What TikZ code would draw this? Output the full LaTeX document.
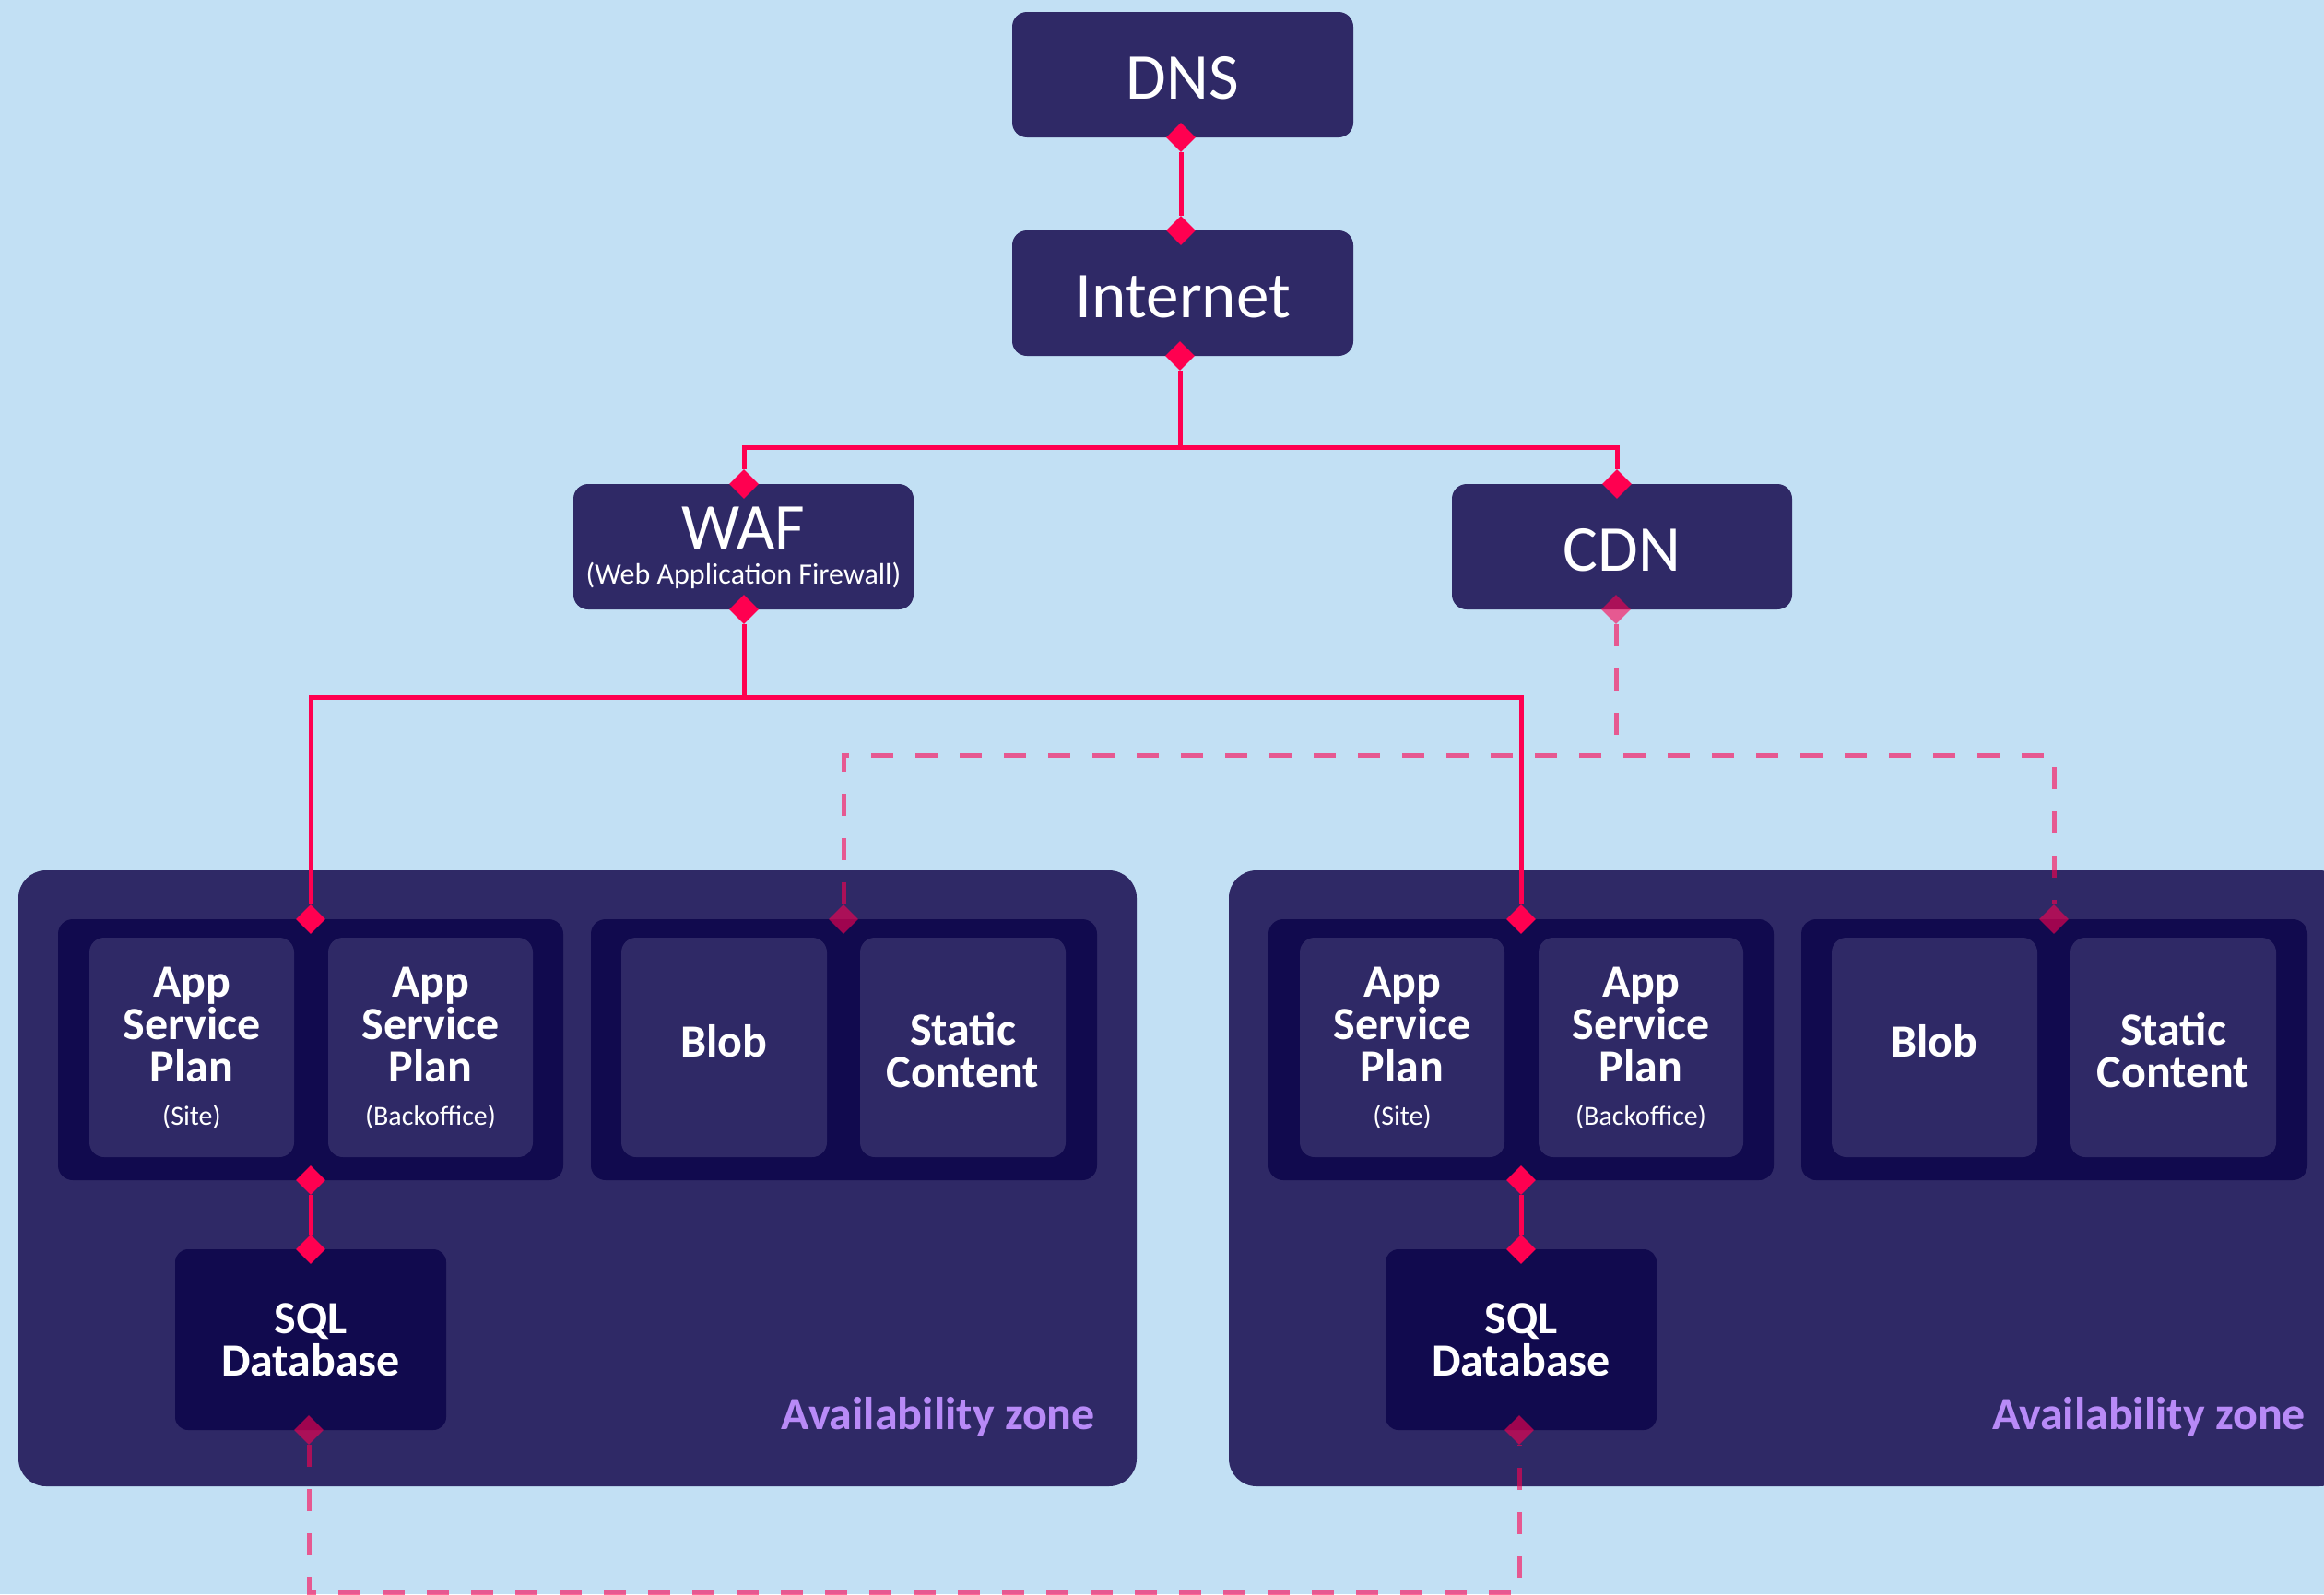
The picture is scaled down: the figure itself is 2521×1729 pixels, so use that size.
\documentclass[tikz,border=0pt]{standalone}
\usepackage{fontspec}
\setmainfont{Carlito}
\usetikzlibrary{shapes.geometric}

\definecolor{sky}{HTML}{C2E0F4}
\definecolor{navy}{HTML}{2F2966}
\definecolor{ink}{HTML}{110A4E}
\definecolor{hot}{HTML}{FF0050}
\definecolor{lilac}{HTML}{B88AF7}

\tikzset{
  box/.style={fill=navy, rounded corners=16pt, inner sep=0pt, text=white,
    text height=53pt, text depth=0pt, font=\fontsize{71}{74}\selectfont},
  group/.style={fill=ink, rounded corners=16pt, inner sep=0pt},
  card/.style={fill=navy, rounded corners=16pt, inner sep=0pt},
  dbbox/.style={fill=ink, rounded corners=14pt, inner sep=0pt},
  zonebox/.style={fill=navy, rounded corners=30pt, inner sep=0pt},
  cardtext/.style={text=white, align=center, inner sep=0pt, anchor=north,
    font=\fontsize{50}{46}\selectfont\bfseries},
  subtext/.style={text=white, inner sep=0pt, anchor=base,
    font=\fontsize{30}{34}\selectfont},
  zonetext/.style={text=lilac, inner sep=0pt, anchor=base east,
    font=\fontsize{50}{56}\selectfont\bfseries},
  knot/.style={diamond, fill=hot, inner sep=0pt, minimum width=32pt, minimum height=32pt},
  faint knot/.style={knot, fill opacity=0.6},
  link/.style={draw=hot, line width=5pt},
  dlink/.style={draw=hot, draw opacity=0.6, line width=5pt, dash pattern=on 24pt off 24pt},
}

% One availability zone: #1 = horizontal offset, #2 = name suffix
\newcommand{\azone}[2]{%
  \begin{scope}[shift={(#1,0)}]
    \node[zonebox, minimum width=1213pt, minimum height=668pt] (zone#2) at (626.5,1278) {};
    % app service plans
    \node[group, minimum width=548pt, minimum height=283pt] (apps#2) at (337,1138.5) {};
    \node[card, minimum width=222pt, minimum height=238pt] (site#2) at (208,1136) {};
    \node[card, minimum width=222pt, minimum height=238pt] (back#2) at (467,1136) {};
    \node[cardtext] (sitet#2) at (208,1048.4) {App\\Service\\Plan};
    \node[subtext] (sites#2) at (208,1220) {(Site)};
    \node[cardtext] (backt#2) at (467,1048.4) {App\\Service\\Plan};
    \node[subtext] (backs#2) at (467,1220) {(Backoffice)};
    % storage
    \node[group, minimum width=549pt, minimum height=283pt] (store#2) at (915.5,1138.5) {};
    \node[card, minimum width=223pt, minimum height=238pt] (blob#2) at (785.5,1136) {};
    \node[card, minimum width=223pt, minimum height=238pt] (stat#2) at (1044.5,1136) {};
    \node[cardtext, anchor=base] (blobt#2) at (785.5,1146) {Blob};
    \node[cardtext] (statt#2) at (1044.5,1098) {Static\\Content};
    % database
    \node[dbbox, minimum width=294pt, minimum height=196pt] (sql#2) at (337,1453) {};
    \node[cardtext] (sqlt#2) at (337,1413) {SQL\\Database};
    \node[zonetext] (zonet#2) at (1188,1550) {Availability zone};
    % connection points
    \node[knot] (appT#2) at (337,997) {};
    \node[knot] (appB#2) at (337,1280) {};
    \node[knot] (sqlT#2) at (337,1355) {};
    \node[faint knot] (sqlB#2) at (335,1551) {};
    \node[faint knot] (blobT#2) at (915,997) {};
    \draw[link] (appB#2) -- (sqlT#2);
  \end{scope}}

\begin{document}
\begin{tikzpicture}[x=1pt, y=-1pt]
  \clip (0,0) rectangle (2521,1729);
  \fill[sky] (0,0) rectangle (2521,1729);

  % front-end chain
  \node[box, minimum width=370pt, minimum height=136pt] (dns) at (1283,81) {DNS};
  \node[box, minimum width=370pt, minimum height=136pt] (inet) at (1283,318) {Internet};
  \node[box, minimum width=369pt, minimum height=136pt] (waf) at (806.5,593) {};
  \node[text=white, inner sep=0pt, anchor=base, font=\fontsize{71}{74}\selectfont] (waft) at (806.5,595) {WAF};
  \node[text=white, inner sep=0pt, anchor=base, font=\fontsize{32}{36}\selectfont] (wafs) at (806.5,633) {(Web Application Firewall)};
  \node[box, minimum width=369pt, minimum height=136pt] (cdn) at (1759.5,593) {CDN};

  \node[knot] (dnsS) at (1281,149) {};
  \node[knot] (inetN) at (1281,250) {};
  \node[knot] (inetS) at (1280,386) {};
  \node[knot] (wafN) at (807,525) {};
  \node[knot] (cdnN) at (1754,525) {};
  \node[knot] (wafS) at (807,661) {};
  \node[faint knot] (cdnS) at (1753,661) {};

  % availability zones
  \azone{0}{L}
  \azone{1313}{R}

  % replication links (dashed)
  \coordinate (fork3) at (1753,819);
  \draw[dlink] (cdnS) -- (fork3);
  \draw[dlink] (blobTL) |- (fork3) -| (blobTR);
  \coordinate (floor) at (335,1727);
  \draw[dlink] (sqlBL) -- (floor) -| (sqlBR);

  % traffic links (solid)
  \draw[link] (dnsS) -- (inetN);
  \coordinate (fork1) at (1280,485);
  \draw[link] (inetS) -- (fork1);
  \draw[link] (wafN) |- (fork1) -| (cdnN);
  \coordinate (fork2) at (807,756);
  \draw[link] (wafS) -- (fork2);
  \draw[link] (appTL) |- (fork2) -| (appTR);
\end{tikzpicture}
\end{document}
